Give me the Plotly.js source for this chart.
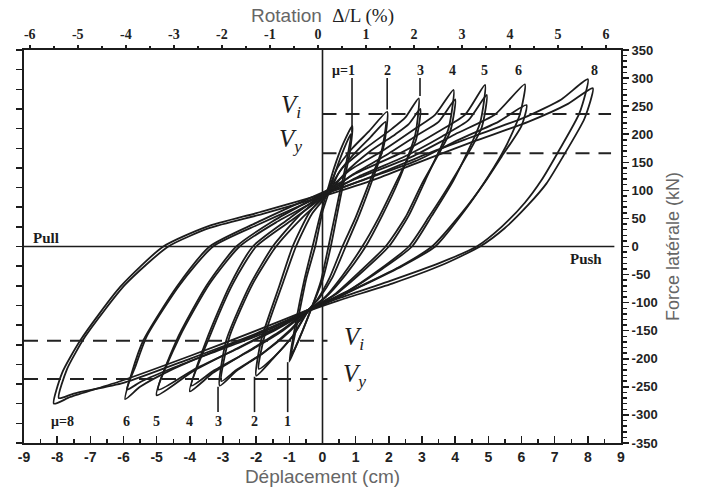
<!DOCTYPE html>
<html>
<head>
<meta charset="utf-8">
<script src="https://cdn.plot.ly/plotly-3.0.1.min.js"></script>
<style>
  html, body { margin: 0; padding: 0; background: #fff; }
  #chart { width: 713px; height: 497px; }
</style>
</head>
<body>
<div id="chart"></div>
<script>
// Boucles d'hystérésis force latérale / déplacement, deux cycles par niveau de ductilité (séparés par null)
const mu1X = [0.9,0.8,0.55,0.25,0.0,-0.3,-0.6,-0.85,-1.0,-0.85,-0.55,-0.3,-0.05,0.15,0.35,0.6,0.9, null,
              0.85,0.72,0.48,0.18,-0.05,-0.32,-0.6,-0.82,-0.95,-0.78,-0.48,-0.22,0.0,0.2,0.4,0.62,0.85];
const mu1Y = [215,160,90,0,-60,-105,-150,-185,-205,-150,-60,0,60,100,140,180,215, null,
              200,150,85,0,-62,-108,-150,-180,-195,-142,-55,0,62,98,135,170,200];

const mu2X = [1.95,1.85,1.5,1.1,0.7,0.3,-0.1,-0.4,-0.9,-1.5,-2.0,-1.85,-1.3,-0.9,-0.4,0.15,0.45,0.9,1.4,1.95, null,
              1.9,1.78,1.4,1.0,0.6,0.22,-0.15,-0.45,-0.9,-1.45,-1.92,-1.75,-1.2,-0.8,-0.32,0.2,0.5,0.95,1.45,1.9];
const mu2Y = [240,180,118,55,0,-55,-92,-112,-160,-200,-230,-167,-70,0,60,100,140,175,205,240, null,
              222,170,112,52,0,-55,-94,-115,-160,-196,-218,-160,-66,0,58,96,132,165,195,222];

const mu3X = [2.9,2.8,2.3,1.8,1.3,0.7,0.1,-0.4,-1.0,-1.8,-2.6,-3.1,-2.9,-2.2,-1.5,-0.7,0.15,0.6,1.3,2.1,2.5,2.9, null,
              2.95,2.82,2.2,1.7,1.2,0.6,0.05,-0.42,-1.0,-1.8,-2.6,-3.05,-2.8,-2.1,-1.4,-0.6,0.2,0.7,1.4,2.2,2.6,2.95];
const mu3Y = [264,200,118,55,0,-50,-90,-112,-150,-190,-222,-248,-167,-70,0,55,100,140,175,210,230,264, null,
              245,190,112,52,0,-52,-92,-115,-152,-190,-220,-240,-160,-66,0,52,96,132,168,200,218,245];

const mu4X = [3.95,3.8,3.1,2.6,2.0,1.2,0.4,-0.4,-1.2,-2.2,-3.3,-4.0,-3.5,-2.8,-2.1,-1.0,0.15,0.8,1.8,2.8,3.4,3.95, null,
              4.0,3.85,3.0,2.5,1.9,1.1,0.35,-0.42,-1.2,-2.2,-3.3,-3.95,-3.4,-2.7,-2.0,-0.9,0.2,0.9,1.9,2.9,3.5,4.0];
const mu4Y = [279,210,118,55,0,-45,-85,-112,-148,-185,-225,-258,-167,-70,0,50,100,135,170,210,235,279, null,
              262,205,112,52,0,-46,-86,-115,-150,-186,-222,-248,-160,-66,0,48,96,128,162,200,222,262];

const mu5X = [4.9,4.75,3.95,3.3,2.7,1.8,0.8,-0.4,-1.4,-2.6,-3.9,-5.0,-4.4,-3.5,-2.6,-1.5,-0.5,0.15,1.0,2.3,3.5,4.3,4.9, null,
              4.95,4.8,3.85,3.2,2.6,1.7,0.75,-0.42,-1.4,-2.6,-3.9,-4.95,-4.3,-3.4,-2.5,-1.4,-0.4,0.2,1.1,2.4,3.6,4.4,4.95];
const mu5Y = [288,220,118,55,0,-40,-78,-112,-146,-182,-222,-265,-167,-70,0,45,78,100,130,165,205,235,288, null,
              270,212,112,52,0,-42,-80,-115,-148,-183,-220,-255,-160,-66,0,43,75,96,125,158,196,225,270];

const mu6X = [6.1,5.95,5.5,5.0,4.3,3.4,2.4,1.2,0.2,-0.4,-1.5,-3.0,-4.5,-5.5,-5.95,-5.75,-5.4,-4.4,-3.4,-2.0,-0.8,0.15,1.2,2.7,4.0,5.2,6.1, null,
              6.15,6.0,5.4,4.9,4.2,3.3,2.3,1.1,0.15,-0.42,-1.5,-3.0,-4.5,-5.45,-5.9,-5.65,-5.3,-4.3,-3.3,-1.9,-0.7,0.2,1.3,2.8,4.1,5.3,6.15];
const mu6Y = [289,235,175,125,65,0,-35,-70,-98,-112,-145,-180,-218,-250,-272,-225,-167,-72,0,42,75,100,125,160,200,235,289, null,
              252,215,160,115,60,0,-37,-72,-100,-115,-148,-182,-216,-240,-255,-215,-160,-68,0,40,72,96,120,152,190,222,252];

const mu8X = [8.0,7.75,7.1,6.6,6.1,5.4,4.65,3.5,2.0,0.5,-0.4,-2.0,-4.0,-6.1,-7.6,-8.1,-7.85,-7.3,-6.1,-4.8,-3.5,-1.9,0.1,1.5,3.15,4.5,6.1,7.2,8.0, null,
              8.15,7.9,7.25,6.75,6.2,5.5,4.75,3.6,2.1,0.5,-0.42,-2.0,-4.0,-6.0,-7.5,-7.95,-7.7,-7.15,-5.95,-4.65,-3.4,-1.8,0.15,1.6,3.25,4.6,6.2,7.4,8.15];
const mu8Y = [298,238,168,118,78,35,0,-30,-62,-92,-112,-150,-195,-240,-268,-280,-225,-167,-72,0,35,61,95,125,165,195,230,262,298, null,
              282,228,160,112,74,33,0,-33,-66,-96,-115,-155,-200,-243,-262,-270,-218,-160,-68,0,33,58,92,120,158,188,222,254,282];

// Niveaux V_i / V_y (kN)
const viPos = 236, vyPos = 166, viNeg = -168, vyNeg = -236;

// Étiquettes de ductilité
const muTopLabels = ['μ=1', '2', '3', '4', '5', '6', '8'];
const muTopX = [0.62, 1.95, 2.94, 3.93, 4.87, 5.9, 8.2];
const muBotLabels = ['μ=8', '6', '5', '4', '3', '2', '1'];
const muBotX = [-7.85, -5.9, -5.0, -4.0, -3.15, -2.05, -1.05];

// Graduations
const dispTicks = [-9,-8,-7,-6,-5,-4,-3,-2,-1,0,1,2,3,4,5,6,7,8,9];
const dispText = ['-9','-8','-7','-6','-5','-4','-3','-2','-1','0','1','2','3','4','5','6','7','8','9'];
const rotTicks = [-6,-5,-4,-3,-2,-1,0,1,2,3,4,5,6];
const rotText = ['-6','-5','-4','-3','-2','-1','0','1','2','3','4','5','6'];
const forceTicks = [-350,-300,-250,-200,-150,-100,-50,0,50,100,150,200,250,300,350];
const forceText = ['-350','-300','-250','-200','-150','-100','-50','0','50','100','150','200','250','300','350'];

const ink = '#1c1c1c';
const loops = [[mu1X, mu1Y], [mu2X, mu2Y], [mu3X, mu3Y], [mu4X, mu4Y], [mu5X, mu5Y], [mu6X, mu6Y], [mu8X, mu8Y]];

const traces = loops.map(function (l) {
  return {
    x: l[0], y: l[1], type: 'scatter', mode: 'lines',
    line: { color: ink, width: 1.8, shape: 'spline', smoothing: 0.6 },
    connectgaps: false, hoverinfo: 'skip'
  };
});
// axes secondaires (rotation en haut, graduations à gauche)
traces.push({ x: [rotTicks[0]], y: [0], xaxis: 'x2', yaxis: 'y', mode: 'markers',
  marker: { opacity: 0 }, hoverinfo: 'skip' });
traces.push({ x: [0], y: [forceTicks[0]], xaxis: 'x', yaxis: 'y2', mode: 'markers',
  marker: { opacity: 0 }, hoverinfo: 'skip' });

const serif = 'Liberation Serif, DejaVu Serif, serif';
const sans = 'Liberation Sans, Arial, sans-serif';
const dashed = { color: '#222', width: 2, dash: '14px,9px' };

const shapes = [
  { type: 'line', xref: 'x', yref: 'y', x0: -9, x1: 8.8, y0: 0, y1: 0, line: { color: ink, width: 1.6 } },
  { type: 'line', xref: 'x', yref: 'y', x0: 0, x1: 0, y0: -350, y1: 350, line: { color: ink, width: 1.6 } },
  { type: 'line', x0: 0, x1: 8.7, y0: viPos, y1: viPos, line: dashed },
  { type: 'line', x0: 0, x1: 8.7, y0: vyPos, y1: vyPos, line: dashed },
  { type: 'line', x0: -9, x1: 0.15, y0: viNeg, y1: viNeg, line: dashed },
  { type: 'line', x0: -9, x1: 0.15, y0: vyNeg, y1: vyNeg, line: dashed },
  // repères des pics
  { type: 'line', x0: 0.89, x1: 0.89, y0: 300, y1: 204, line: { color: ink, width: 1.6 } },
  { type: 'line', x0: 1.95, x1: 1.95, y0: 300, y1: 244, line: { color: ink, width: 1.6 } },
  { type: 'line', x0: 2.94, x1: 2.94, y0: 300, y1: 268, line: { color: ink, width: 1.6 } },
  { type: 'line', x0: -1.05, x1: -1.05, y0: -206, y1: -295, line: { color: ink, width: 1.6 } },
  { type: 'line', x0: -2.05, x1: -2.05, y0: -232, y1: -295, line: { color: ink, width: 1.6 } },
  { type: 'line', x0: -3.15, x1: -3.15, y0: -250, y1: -295, line: { color: ink, width: 1.6 } }
];

const annotations = [];
muTopLabels.forEach(function (t, i) {
  annotations.push({ x: muTopX[i], y: 314, text: t, showarrow: false,
    font: { family: serif, size: 14, color: ink, weight: 'bold' } });
});
muBotLabels.forEach(function (t, i) {
  annotations.push({ x: muBotX[i], y: -311, text: t, showarrow: false,
    font: { family: serif, size: 14, color: ink, weight: 'bold' } });
});
const vFont = { family: serif, size: 25, color: ink, style: 'italic' };
annotations.push({ x: -0.95, y: 250, text: 'V<sub>i</sub>', showarrow: false, font: vFont });
annotations.push({ x: -0.95, y: 188, text: 'V<sub>y</sub>', showarrow: false, font: vFont });
annotations.push({ x: 0.95, y: -163, text: 'V<sub>i</sub>', showarrow: false, font: vFont });
annotations.push({ x: 0.95, y: -230, text: 'V<sub>y</sub>', showarrow: false, font: vFont });
annotations.push({ x: -8.35, y: 15, text: 'Pull', showarrow: false,
  font: { family: serif, size: 15, color: ink, weight: 'bold' } });
annotations.push({ x: 7.95, y: -22, text: 'Push', showarrow: false,
  font: { family: serif, size: 15, color: ink, weight: 'bold' } });

const layout = {
  width: 713, height: 497,
  margin: { l: 24, r: 92, t: 50, b: 54 },
  paper_bgcolor: '#fff', plot_bgcolor: '#fff',
  showlegend: false, hovermode: false,
  xaxis: {
    range: [-9, 9], tickvals: dispTicks, ticktext: dispText,
    ticks: 'inside', ticklen: 7, tickwidth: 1.5, tickcolor: ink,
    minor: { dtick: 0.5, ticks: 'inside', ticklen: 4, tickcolor: ink },
    showline: true, linecolor: ink, linewidth: 2, showgrid: false, zeroline: false,
    tickfont: { family: sans, size: 14, color: '#222', weight: 'bold' },
    title: { text: 'Déplacement (cm)', font: { family: sans, size: 19, color: '#666' }, standoff: 6 }
  },
  xaxis2: {
    overlaying: 'x', side: 'top', anchor: 'y',
    range: [-6.12, 6.31], tickvals: rotTicks, ticktext: rotText,
    ticks: 'outside', ticklen: 3, tickwidth: 1.5, tickcolor: ink,
    minor: { dtick: 0.5, ticks: 'outside', ticklen: 2, tickcolor: ink },
    showline: true, linecolor: ink, linewidth: 2, showgrid: false, zeroline: false,
    tickfont: { family: serif, size: 14, color: '#222', weight: 'bold' },
    title: { text: 'Rotation  <span style="font-family:Liberation Serif;color:#222">Δ/L (%)</span>',
      font: { family: sans, size: 19, color: '#666' }, standoff: 0 }
  },
  yaxis: {
    side: 'right', range: [-350, 350], tickvals: forceTicks, ticktext: forceText,
    ticks: 'outside', ticklen: 6, tickwidth: 1.5, tickcolor: ink,
    minor: { dtick: 10, ticks: 'outside', ticklen: 4, tickcolor: ink },
    showline: true, linecolor: ink, linewidth: 2, showgrid: false, zeroline: false,
    tickfont: { family: sans, size: 13, color: '#222', weight: 'bold' },
    title: { text: 'Force latérale (kN)', font: { family: sans, size: 18, color: '#666' }, standoff: 10 }
  },
  yaxis2: {
    overlaying: 'y', side: 'left', anchor: 'x', range: [-350, 350], dtick: 35,
    ticks: 'outside', ticklen: 6, tickwidth: 1.5, tickcolor: ink, showticklabels: false,
    showline: true, linecolor: ink, linewidth: 2, showgrid: false, zeroline: false
  },
  shapes: shapes,
  annotations: annotations
};

Plotly.newPlot('chart', traces, layout, { displayModeBar: false, staticPlot: true });
</script>
</body>
</html>
